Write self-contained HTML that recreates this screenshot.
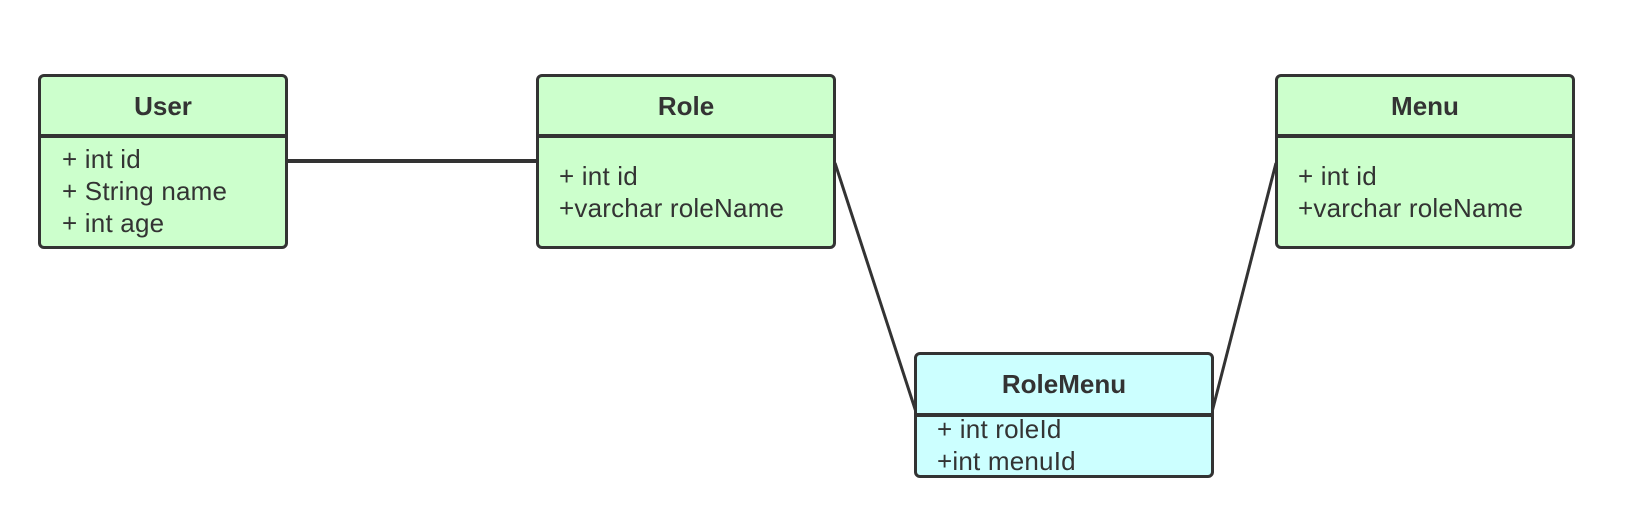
<!DOCTYPE html>
<html><head><style>
body{margin:0;width:1638px;height:515px;background:#fff;position:relative;overflow:hidden;font-family:"Liberation Sans",sans-serif;color:#333}
.b{position:absolute;border:3.5px solid #333;border-radius:6px;box-sizing:border-box}
.t{position:absolute;left:0;right:0;text-align:center;font-weight:bold;font-size:26px}
.d{position:absolute;left:0;right:0;height:3.5px;background:#333}
.a{position:absolute;font-size:26px;letter-spacing:0.2px;white-space:nowrap;line-height:32px}
</style></head><body>
<svg width="1638" height="515" style="position:absolute;left:0;top:0">
<line x1="286" y1="161" x2="538" y2="161" stroke="#333" stroke-width="4"/>
<line x1="835" y1="163" x2="916" y2="412" stroke="#333" stroke-width="3"/>
<line x1="1276" y1="163" x2="1212" y2="412" stroke="#333" stroke-width="3"/>
</svg>
<div class="b" style="left:38px;top:74px;width:250px;height:175px;background:#ccffcc">
<div class="t" style="top:14px">User</div><div class="d" style="top:57px"></div>
<div class="a" style="left:21px;top:66px">+ int id<br>+ String name<br>+ int age</div></div>
<div class="b" style="left:536px;top:74px;width:300px;height:175px;background:#ccffcc">
<div class="t" style="top:14px">Role</div><div class="d" style="top:57px"></div>
<div class="a" style="left:20px;top:83px">+ int id<br>+varchar roleName</div></div>
<div class="b" style="left:1275px;top:74px;width:300px;height:175px;background:#ccffcc">
<div class="t" style="top:14px">Menu</div><div class="d" style="top:57px"></div>
<div class="a" style="left:20px;top:83px">+ int id<br>+varchar roleName</div></div>
<div class="b" style="left:914px;top:352px;width:300px;height:126px;background:#ccffff">
<div class="t" style="top:14px">RoleMenu</div><div class="d" style="top:58px"></div>
<div class="a" style="left:20px;top:58px">+ int roleId<br>+int menuId</div></div>
</body></html>
